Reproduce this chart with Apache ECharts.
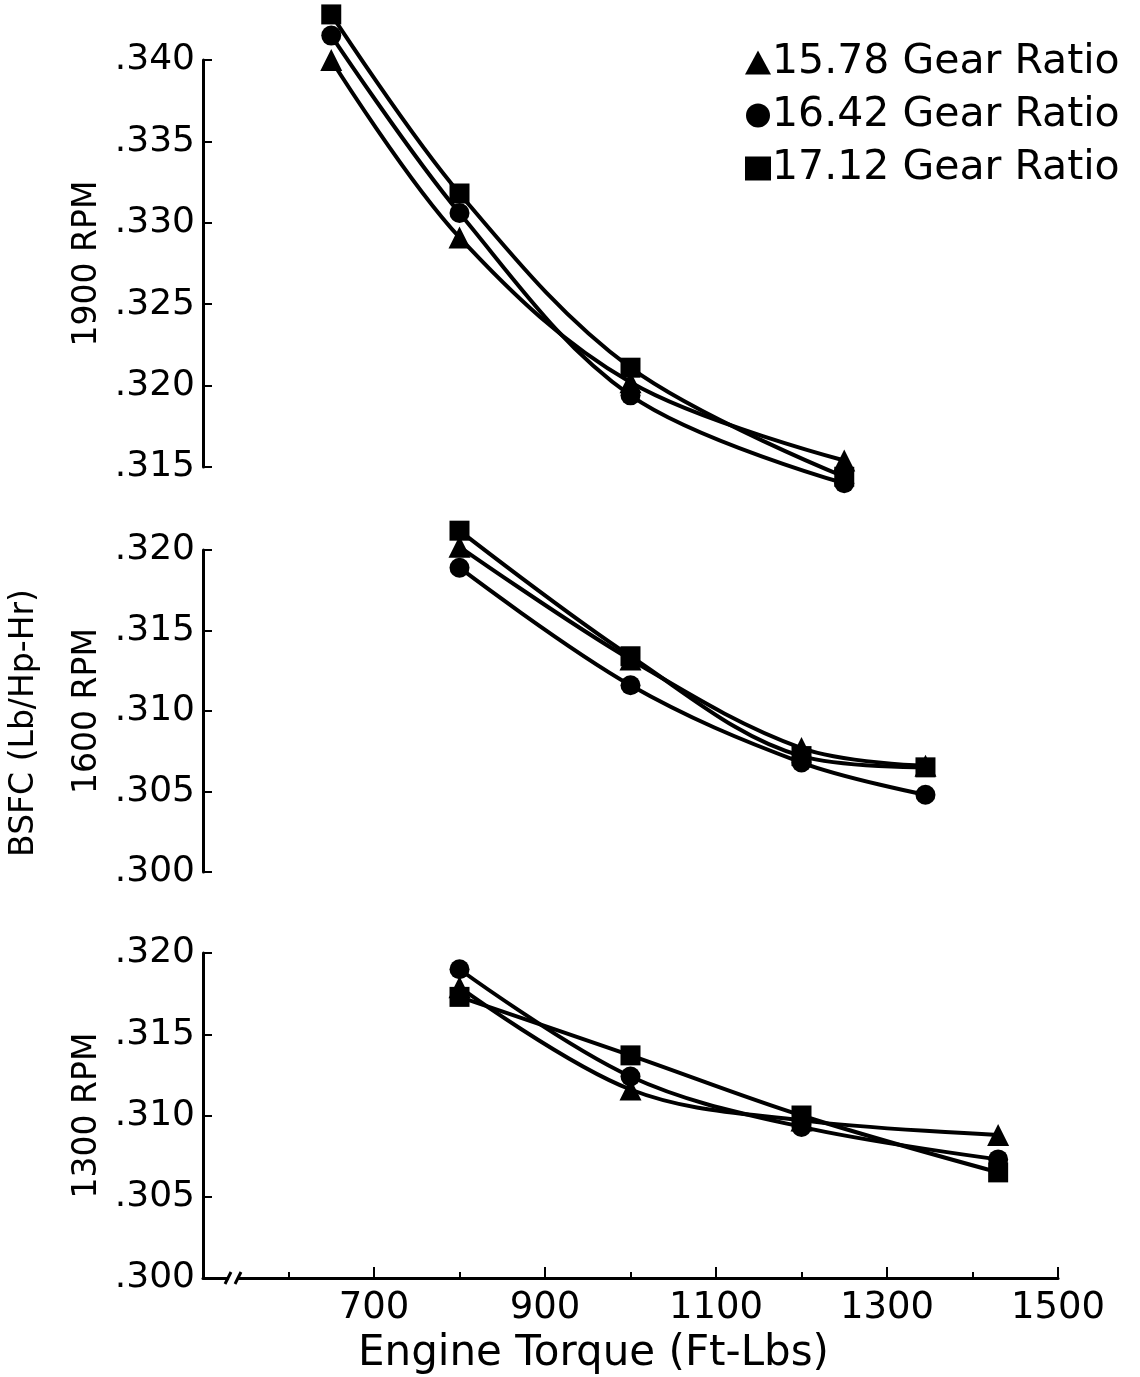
<!DOCTYPE html>
<html>
<head>
<meta charset="utf-8">
<script src="https://cdn.jsdelivr.net/npm/echarts@6/dist/echarts.min.js"></script>
<style>
html,body{margin:0;padding:0;background:#fff;}
#chart{width:1140px;height:1377px;}
</style>
</head>
<body>
<div id="chart"></div>
<script>
// ---- data ----
const seriesNames = ['15.78 Gear Ratio', '16.42 Gear Ratio', '17.12 Gear Ratio'];
const panelNames = ['1900 RPM', '1600 RPM', '1300 RPM'];

const torque1900 = [650, 800, 1000, 1250];
const torque1600 = [800, 1000, 1200, 1345];
const torque1300 = [800, 1000, 1200, 1430];

const bsfc1900_1578 = [0.3400, 0.3291, 0.3202, 0.3154];
const bsfc1900_1642 = [0.3415, 0.3306, 0.3194, 0.3140];
const bsfc1900_1712 = [0.3428, 0.3318, 0.3211, 0.3144];

const bsfc1600_1578 = [0.3202, 0.3132, 0.3077, 0.3066];
const bsfc1600_1642 = [0.3189, 0.3116, 0.3068, 0.3048];
const bsfc1600_1712 = [0.3212, 0.3134, 0.3072, 0.3065];

const bsfc1300_1578 = [0.3179, 0.3116, 0.3097, 0.3088];
const bsfc1300_1642 = [0.3190, 0.3124, 0.3093, 0.3073];
const bsfc1300_1712 = [0.3173, 0.3137, 0.3100, 0.3065];

const xTickLabels = [700, 900, 1100, 1300, 1500];
const xMinorTicks = [600, 700, 800, 900, 1000, 1100, 1200, 1300, 1400, 1500];
const yRange1900 = [0.315, 0.340];
const yRange1600 = [0.300, 0.320];
const yRange1300 = [0.300, 0.320];

// ---- build options ----
const FONT = 'DejaVu Sans';
const symbols = ['triangle', 'circle', 'rect'];
const symbolSizes = [22, 20, 20];

function zip(xs, ys) { return xs.map((x, i) => [x, ys[i]]); }

const panels = [
  { x: torque1900, ys: [bsfc1900_1578, bsfc1900_1642, bsfc1900_1712], range: yRange1900 },
  { x: torque1600, ys: [bsfc1600_1578, bsfc1600_1642, bsfc1600_1712], range: yRange1600 },
  { x: torque1300, ys: [bsfc1300_1578, bsfc1300_1642, bsfc1300_1712], range: yRange1300 }
];

const grids = [
  { left: 203, right: 82, top: 60, height: 407, outerBoundsMode: 'none', containLabel: false },
  { left: 203, right: 82, top: 550, height: 322, outerBoundsMode: 'none', containLabel: false },
  { left: 203, right: 82, top: 953, height: 325, outerBoundsMode: 'none', containLabel: false }
];

const xAxes = [];
const yAxes = [];
const series = [];

panels.forEach((p, gi) => {
  const isBottom = gi === 2;
  xAxes.push({
    type: 'value', gridIndex: gi, min: 500, max: 1500, interval: 100,
    position: 'bottom',
    show: isBottom,
    axisLine: { show: isBottom, lineStyle: { color: '#000', width: 3 } },
    axisTick: { show: isBottom, inside: true, length: 6, customValues: xMinorTicks, lineStyle: { color: '#000', width: 2 } },
    axisLabel: {
      show: isBottom, customValues: xTickLabels, margin: 12,
      color: '#000', fontFamily: FONT, fontSize: 37,
      formatter: v => String(v)
    },
    splitLine: { show: false },
    name: isBottom ? 'Engine Torque (Ft-Lbs)' : '',
    nameLocation: 'middle', nameGap: 55,
    nameTextStyle: { color: '#000', fontFamily: FONT, fontSize: 42, padding: [0, 74, 0, 0] }
  });
  yAxes.push({
    type: 'value', gridIndex: gi, min: p.range[0], max: p.range[1], interval: 0.005,
    axisLine: { show: true, lineStyle: { color: '#000', width: 3 } },
    axisTick: { show: true, inside: true, length: 9, lineStyle: { color: '#000', width: 2 } },
    axisLabel: {
      color: '#000', fontFamily: FONT, fontSize: 36, margin: 8,
      formatter: v => v.toFixed(3).slice(1)
    },
    splitLine: { show: false },
    name: panelNames[gi], nameLocation: 'middle', nameRotate: 90, nameGap: 93,
    nameTextStyle: { color: '#000', fontFamily: FONT, fontSize: 33 }
  });
  p.ys.forEach((ys, si) => {
    series.push({
      name: seriesNames[si], type: 'line', xAxisIndex: gi, yAxisIndex: gi,
      data: zip(p.x, ys), smooth: 0.35, clip: false,
      symbol: symbols[si], symbolSize: symbolSizes[si],
      lineStyle: { color: '#000', width: 4 },
      itemStyle: { color: '#000' },
      emphasis: { disabled: true }, animation: false
    });
  });
});

// extra bottom axis for the longer labelled ticks
xAxes.push({
  type: 'value', gridIndex: 2, min: 500, max: 1500, interval: 100,
  position: 'bottom', offset: 0,
  axisLine: { show: false },
  axisTick: { show: true, inside: true, length: 11, customValues: xTickLabels, lineStyle: { color: '#000', width: 2 } },
  axisLabel: { show: false }, splitLine: { show: false }
});

const option = {
  backgroundColor: '#fff',
  animation: false,
  grid: grids,
  xAxis: xAxes,
  yAxis: yAxes,
  series: series,
  legend: {
    orient: 'vertical', left: 740, top: 37,
    itemWidth: 26, itemHeight: 24, itemGap: 12,
    selectedMode: false,
    textStyle: { color: '#000', fontFamily: FONT, fontSize: 41, padding: [0, 0, 0, -4] },
    data: seriesNames.map((n, i) => ({ name: n, icon: ['triangle', 'circle', 'rect'][i], itemStyle: { color: '#000' } }))
  },
  graphic: [
    {
      type: 'text', x: 24, y: 723, rotation: Math.PI / 2,
      style: { text: 'BSFC (Lb/Hp-Hr)', font: '33px "DejaVu Sans"', fill: '#000', textAlign: 'center', textVerticalAlign: 'middle' }
    },
    { type: 'rect', shape: { x: 229, y: 1274, width: 9, height: 8 }, style: { fill: '#fff' }, z: 100 },
    { type: 'line', shape: { x1: 225, y1: 1284, x2: 231, y2: 1272 }, style: { stroke: '#000', lineWidth: 3 }, z: 101 },
    { type: 'line', shape: { x1: 235, y1: 1284, x2: 241, y2: 1272 }, style: { stroke: '#000', lineWidth: 3 }, z: 101 }
  ]
};

const chart = echarts.init(document.getElementById('chart'), null, { renderer: 'canvas' });
chart.setOption(option);
</script>
</body>
</html>
